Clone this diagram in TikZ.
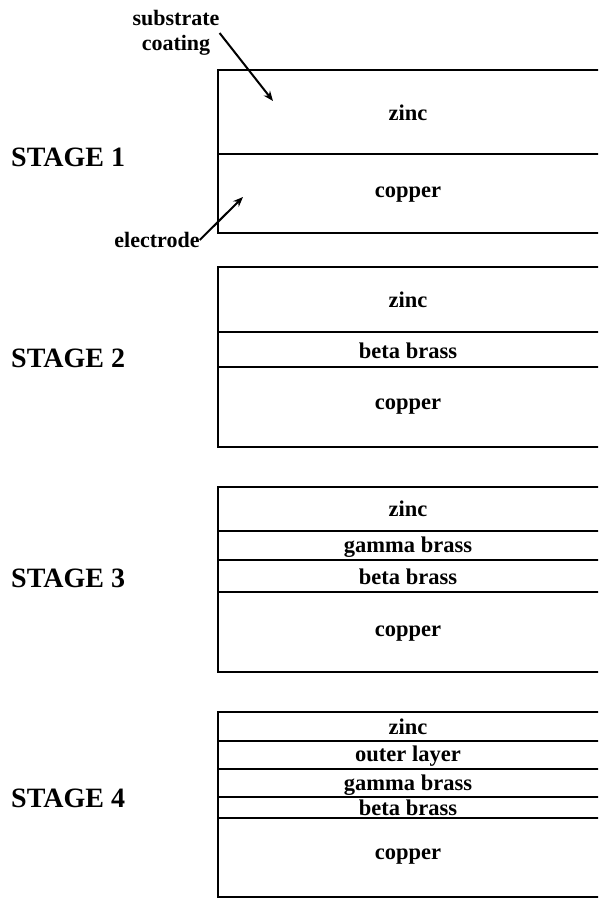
\documentclass[tikz,border=0pt]{standalone}
\usepackage{fontspec}
\setmainfont{Liberation Serif}
\usetikzlibrary{arrows.meta}
\begin{document}
\begin{tikzpicture}[x=1pt,y=-1pt,
  layerbox/.style={line width=2.8pt},
  lbl/.style={font=\fontsize{22.5}{24}\selectfont\bfseries, inner sep=0pt, anchor=center},
  stagelbl/.style={font=\fontsize{28}{30}\selectfont\bfseries, inner sep=0pt, anchor=west},
  note/.style={font=\fontsize{22}{25}\selectfont\bfseries, inner sep=0pt, align=center},
  pointer/.style={line width=2pt, -{Stealth[length=10pt,width=8pt]}}]
\useasboundingbox (0,0) rectangle (598,899);
\begin{scope}
\clip (0,0) rectangle (598,899);
% Stage 1
\draw[layerbox] (610,70) -- (218,70) -- (218,233) -- (610,233);
\draw[layerbox] (218,154) -- (610,154);
% Stage 2
\draw[layerbox] (610,267) -- (218,267) -- (218,447) -- (610,447);
\draw[layerbox] (218,332) -- (610,332);
\draw[layerbox] (218,367) -- (610,367);
% Stage 3
\draw[layerbox] (610,487) -- (218,487) -- (218,672) -- (610,672);
\draw[layerbox] (218,531) -- (610,531);
\draw[layerbox] (218,560) -- (610,560);
\draw[layerbox] (218,592) -- (610,592);
% Stage 4
\draw[layerbox] (610,712) -- (218,712) -- (218,897) -- (610,897);
\draw[layerbox] (218,741) -- (610,741);
\draw[layerbox] (218,769) -- (610,769);
\draw[layerbox] (218,797) -- (610,797);
\draw[layerbox] (218,818) -- (610,818);
\end{scope}
% stage labels
\node[stagelbl] (s1) at (11,157) {STAGE 1};
\node[stagelbl] (s2) at (11,358) {STAGE 2};
\node[stagelbl] (s3) at (11,578) {STAGE 3};
\node[stagelbl] (s4) at (11,798) {STAGE 4};
% layer labels
\node[lbl] (z1) at (408,113) {zinc};
\node[lbl] (c1) at (408,195) {copper};
\node[lbl] (z2) at (408,300) {zinc};
\node[lbl] (b2) at (408,351) {beta brass};
\node[lbl] (c2) at (408,407) {copper};
\node[lbl] (z3) at (408,509) {zinc};
\node[lbl] (g3) at (408,547) {gamma brass};
\node[lbl] (b3) at (408,577) {beta brass};
\node[lbl] (c3) at (408,634) {copper};
\node[lbl] (z4) at (408,727) {zinc};
\node[lbl] (o4) at (408,756) {outer layer};
\node[lbl] (g4) at (408,785) {gamma brass};
\node[lbl] (b4) at (408,808) {beta brass};
\node[lbl] (c4) at (408,857) {copper};
% annotations
\node[note] (sc) at (176,33) {substrate\\coating};
\node[note] (el) at (157,240) {electrode};
\coordinate (sctip) at (273,101);
\coordinate (eltip) at (243,197);
\draw[pointer] (sc.east) -- (sctip);
\draw[pointer] (el.east) -- (eltip);
\end{tikzpicture}
\end{document}
